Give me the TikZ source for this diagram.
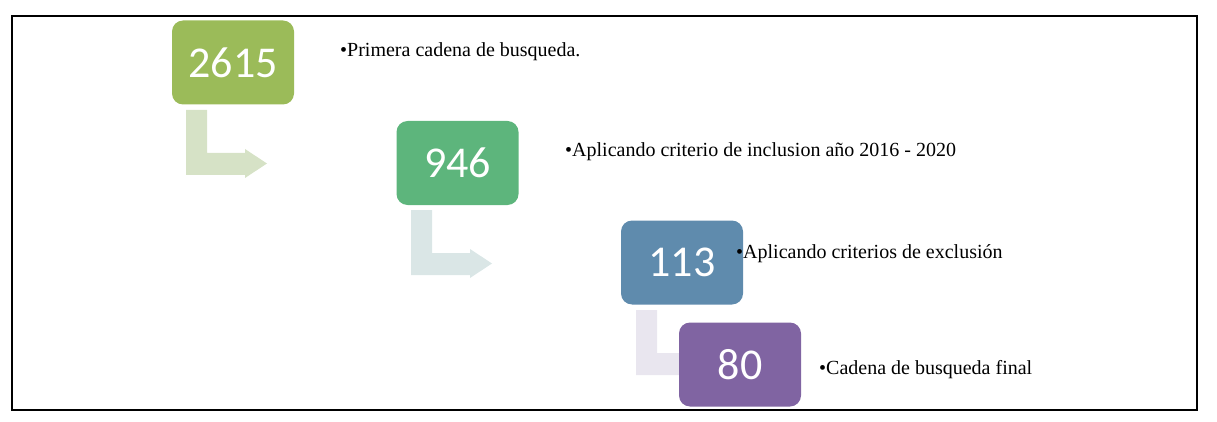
\documentclass[tikz,border=0pt]{standalone}
\usepackage{fontspec}
\setmainfont{Liberation Serif}
\newfontfamily\numfont{Carlito}
\begin{document}
\begin{tikzpicture}[x=1pt,y=-1pt,
  numbox/.style={rounded corners=11pt,minimum width=122pt,minimum height=84pt,inner sep=0pt,text=white,font=\numfont\fontsize{44}{44}\selectfont},
  lbl/.style={anchor=west,inner sep=0pt,font=\fontsize{20}{24}\selectfont}]
\useasboundingbox (0,0) rectangle (1217,422);
\draw[line width=1.2pt] (12,16) rectangle (1197,410);
\definecolor{cA}{HTML}{9BBB59}\definecolor{cB}{HTML}{5DB57C}
\definecolor{cC}{HTML}{5F8BAD}\definecolor{cD}{HTML}{8064A2}
\definecolor{aA}{HTML}{D6E2C6}\definecolor{aB}{HTML}{DAE6E6}\definecolor{aC}{HTML}{E9E6EF}
\fill[aA] (186,110) -- (207,110) -- (207,153) -- (245,153) -- (245,149) -- (267,163.5) -- (245,178) -- (245,175) -- (186,175) -- cycle;
\fill[aB] (411,210) -- (432,210) -- (432,253) -- (470,253) -- (470,249) -- (492,263.5) -- (470,278) -- (470,275) -- (411,275) -- cycle;
\fill[aC] (636,310) -- (657,310) -- (657,353) -- (695,353) -- (695,349) -- (717,363.5) -- (695,378) -- (695,375) -- (636,375) -- cycle;
\node[numbox,fill=cA] (n1) at (233,62.5) {2615};
\node[numbox,fill=cB] (n2) at (457.5,163) {946};
\node[numbox,fill=cC] (n3) at (682,262.5) {113};
\node[numbox,fill=cD] (n4) at (740,364.5) {80};
\node[lbl] (t1) at (340,52) {•Primera cadena de busqueda.};
\node[lbl] (t2) at (565,152) {•Aplicando criterio de inclusion año 2016 - 2020};
\node[lbl] (t3) at (736,254) {•Aplicando criterios de exclusión};
\node[lbl] (t4) at (819,370) {•Cadena de busqueda final};
\end{tikzpicture}
\end{document}
